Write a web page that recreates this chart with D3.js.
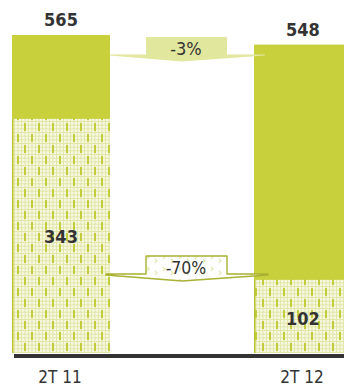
<!DOCTYPE html>
<html>
<head>
<meta charset="utf-8">
<script src="https://cdn.jsdelivr.net/npm/d3@7"></script>
<style>
  html, body { margin: 0; padding: 0; background: #fff; }
  svg { display: block; }
  text { font-family: "DejaVu Sans Condensed", "DejaVu Sans", sans-serif; fill: #333; }
</style>
</head>
<body>
<div id="chart"></div>
<script>
// data
const categories = ["2T 11", "2T 12"];
const totals = [565, 548];
const lowerLabels = [343, 102];
// the hatched part is not drawn to scale in the original, heights as drawn
const lowerDrawn = [416, 130];
const changes = ["-3%", "-70%"];

const width = 344, height = 387;

const svg = d3.select("#chart")
    .append("svg")
    .attr("width", width)
    .attr("height", height);

// pattern for the hatched part
const defs = svg.append("defs");
const pat = defs.append("pattern")
    .attr("id", "hatch")
    .attr("patternUnits", "userSpaceOnUse")
    .attr("width", 14)
    .attr("height", 22);
pat.append("rect").attr("width", 14).attr("height", 22).attr("fill", "#f6f8e2");
for (let i = 0; i < 14; i += 3.5) {
    pat.append("rect").attr("x", i).attr("y", 0).attr("width", 1).attr("height", 22).attr("fill", "#e2e7a8");
}
for (let j = 0; j < 22; j += 3.67) {
    pat.append("rect").attr("x", 0).attr("y", j).attr("width", 14).attr("height", 1).attr("fill", "#e2e7a8");
}
pat.append("rect").attr("x", 3).attr("y", 2).attr("width", 2).attr("height", 8).attr("fill", "#c3cc3a");
pat.append("rect").attr("x", 10).attr("y", 13).attr("width", 2).attr("height", 8).attr("fill", "#c3cc3a");

const pat2 = defs.append("pattern")
    .attr("id", "hatchLight")
    .attr("patternUnits", "userSpaceOnUse")
    .attr("width", 16)
    .attr("height", 12);
pat2.append("rect").attr("width", 16).attr("height", 12).attr("fill", "#fff");
pat2.append("path").attr("d", "M3,3 l2,2 l-2,2 M11,7 l2,2 l-2,2")
    .attr("stroke", "#e3e8ae").attr("fill", "none").attr("stroke-width", 1.2);

const x = d3.scaleBand()
    .domain(categories)
    .range([12, 352])
    .paddingInner(0.595);

const y = d3.scaleLinear()
    .domain([0, 565])
    .range([353, 35]);

const rows = categories.map((c, i) => ({
    cat: c, total: totals[i], lower: lowerDrawn[i], lowerLabel: lowerLabels[i]
}));

// solid upper bars (full height)
svg.selectAll(".bar")
    .data(rows)
    .join("rect")
    .attr("x", d => x(d.cat))
    .attr("y", d => y(d.total))
    .attr("width", x.bandwidth())
    .attr("height", d => y(0) - y(d.total))
    .attr("fill", "#c8d13c");

// hatched lower part
svg.selectAll(".lower")
    .data(rows)
    .join("rect")
    .attr("x", d => x(d.cat))
    .attr("y", d => y(d.lower))
    .attr("width", x.bandwidth())
    .attr("height", d => y(0) - y(d.lower))
    .attr("fill", "url(#hatch)");

svg.selectAll(".lowerEdge")
    .data(rows)
    .join("line")
    .attr("x1", d => x(d.cat) + 0.75)
    .attr("x2", d => x(d.cat) + 0.75)
    .attr("y1", d => y(d.lower))
    .attr("y2", y(0))
    .attr("stroke", "#b9c232")
    .attr("stroke-width", 1.5);

// axis line
svg.append("line")
    .attr("x1", 14).attr("x2", width)
    .attr("y1", 356).attr("y2", 356)
    .attr("stroke", "#333")
    .attr("stroke-width", 4);

// category labels
svg.selectAll(".cat")
    .data(rows)
    .join("text")
    .attr("x", d => x(d.cat) + x.bandwidth() / 2 - 1)
    .attr("y", 383)
    .attr("text-anchor", "middle")
    .attr("font-size", 17)
    .text(d => d.cat);

// total labels
svg.selectAll(".tot")
    .data(rows)
    .join("text")
    .attr("x", d => x(d.cat) + x.bandwidth() / 2)
    .attr("y", d => y(d.total) - 9)
    .attr("text-anchor", "middle")
    .attr("font-size", 18)
    .attr("font-weight", "bold")
    .text(d => d.total);

// lower labels
svg.selectAll(".low")
    .data(rows)
    .join("text")
    .attr("x", d => x(d.cat) + x.bandwidth() / 2)
    .attr("y", d => d.lower > 300 ? 243 : 325)
    .attr("text-anchor", "middle")
    .attr("font-size", 18)
    .attr("font-weight", "bold")
    .text(d => d.lowerLabel);

// change callouts
const midX = (x(categories[0]) + x.bandwidth() + x(categories[1])) / 2;

function callout(top, wingY, l, r, tip) {
    return [
        [l, wingY], [146, wingY], [146, top], [227, top], [227, wingY], [r, wingY],
        [r, wingY + 1], [midX, wingY + tip], [l, wingY + 1]
    ];
}

const line = d3.line();

svg.append("path")
    .attr("d", line(callout(37, 54.5, x(categories[0]) + x.bandwidth(), 265, 7)) + "Z")
    .attr("fill", "#e1e79c");

svg.append("path")
    .attr("d", line(callout(256, 274, 106, 268, 7)) + "Z")
    .attr("fill", "url(#hatchLight)")
    .attr("stroke", "#a9b132")
    .attr("stroke-width", 1.4)
    .attr("stroke-linejoin", "round");

svg.append("text")
    .attr("x", 186).attr("y", 55)
    .attr("text-anchor", "middle")
    .attr("font-size", 18)
    .text(changes[0]);

svg.append("text")
    .attr("x", 186).attr("y", 274)
    .attr("text-anchor", "middle")
    .attr("font-size", 17.5)
    .text(changes[1]);
</script>
</body>
</html>
